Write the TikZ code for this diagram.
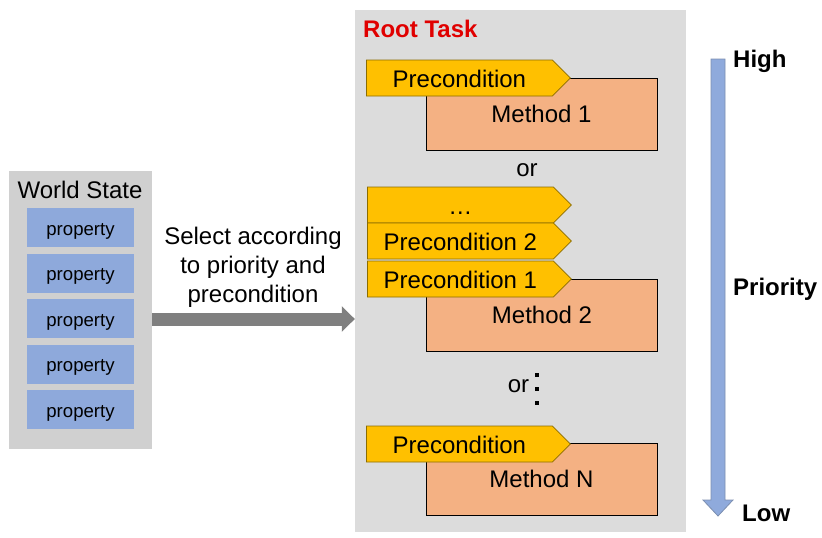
\documentclass[tikz,border=0pt]{standalone}
\usepackage{fontspec}
\setmainfont{Liberation Sans}
\usetikzlibrary{shapes.symbols}
\usetikzlibrary{arrows.meta}
\tikzset{>=latex}
\definecolor{wsgray}{HTML}{D0D0D0}
\definecolor{rtgray}{HTML}{DCDCDC}
\definecolor{propblue}{HTML}{8EA9DB}
\definecolor{preyellow}{HTML}{FFC000}
\definecolor{preedge}{HTML}{8C6D00}
\definecolor{methodsalmon}{HTML}{F4B183}
\definecolor{prioblue}{HTML}{8FAADC}
\definecolor{prioedge}{HTML}{7C8FB0}
\definecolor{selgray}{HTML}{7F7F7F}
\definecolor{rootred}{HTML}{E00000}

\begin{document}
\begin{tikzpicture}[x=1pt,y=-1pt,
		big/.style={font=\fontsize{24}{29}\selectfont},
		bigbold/.style={font=\fontsize{24}{29}\selectfont\bfseries},
		prop/.style={fill=propblue,minimum width=107,minimum height=39,inner sep=0,text height=15,text depth=0,font=\fontsize{18.6}{22}\selectfont},
		method/.style={fill=methodsalmon,draw=black,line width=0.8pt,minimum width=231,minimum height=72,inner sep=0,big},
		pre/.style={signal,signal to=east,signal pointer angle=90,fill=preyellow,draw=preedge,line width=0.8pt,minimum width=204,minimum height=36,inner sep=0,text height=18.6,text depth=0,anchor=west,big}]
		\useasboundingbox (0,0) rectangle (822,538);
		% world state
		\node[fill=wsgray,minimum width=143,minimum height=278,inner sep=0] (ws) at (80.5,310) {};
		\node[big] (wstitle) at (80,190) {World State};
		\foreach \i in {0,...,4}
			\node[prop] (prop\i) at (80.5,227.5+45.5*\i) {property};
		% root task
		\node[fill=rtgray,minimum width=331,minimum height=522,inner sep=0] (rt) at (520.5,271) {};
		\node[bigbold,text=rootred,anchor=west,inner sep=0] (rtitle) at (363,29) {Root Task};
		\node[method] (m1) at (541.5,114) {Method 1};
		\node[pre] (p1) at (366,78) {Precondition};
		\node[big] (or1) at (527,170) {or};
		\node[method] (m2) at (542,315) {Method 2};
		\node[pre] (pdots) at (367,205) {…};
		\node[pre] (pc2) at (367,241) {Precondition 2};
		\node[pre] (pc1) at (367,279) {Precondition 1};
		\node[big] (or2) at (518.5,386) {or};
		\foreach \y in {375,389,403}
			\fill (535,\y-2) rectangle ++(4,4);
		\node[method] (mN) at (541.5,479) {Method N};
		\node[pre] (pN) at (366,444) {Precondition};
		% selection arrow
		\coordinate (selrow) at (0,319);
		\draw[selgray,line width=13,-{Triangle[length=13pt,width=25pt]}] (ws.east |- selrow) -- (rt.west |- selrow);
		\node[big,align=center] (sel) at (253,267) {Select according\\to priority and\\precondition};
		% priority scale
		\draw[fill=prioblue,draw=prioedge,line width=0.8pt] (711,59) -- (725,59) -- (725,500) -- (733,500) -- (718,516) -- (703,500) -- (711,500) -- cycle;
		\node[bigbold,anchor=base west,inner sep=0] (high) at (733,67) {High};
		\node[bigbold,anchor=base west,inner sep=0] (prio) at (733,295) {Priority};
		\node[bigbold,anchor=base west,inner sep=0] (low) at (742,521) {Low};
	\end{tikzpicture}
\end{document}
